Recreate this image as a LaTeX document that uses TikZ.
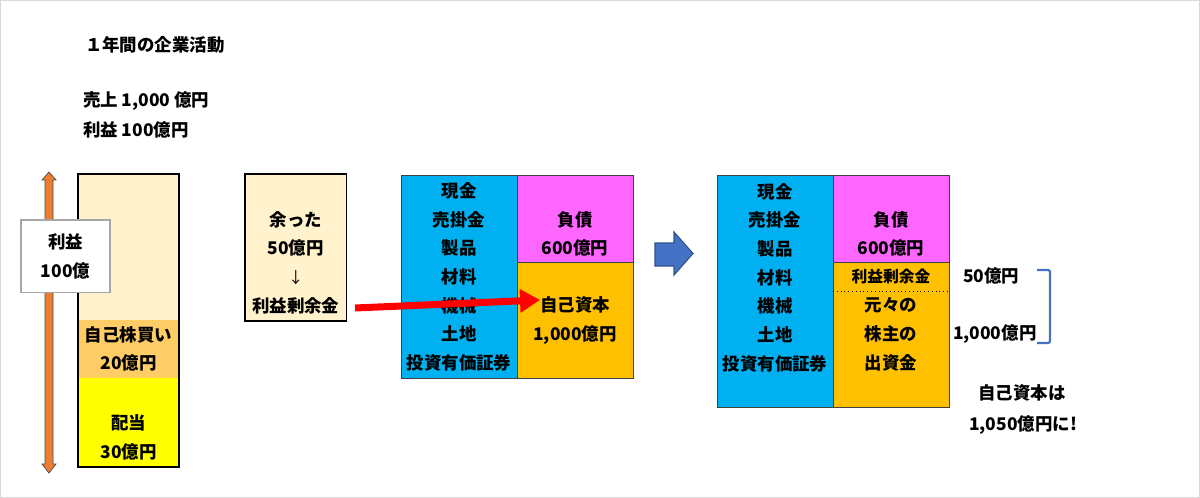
\documentclass[tikz,border=0pt]{standalone}
\usepackage{fontspec}
\setmainfont{Noto Sans CJK JP}
\usepackage{xcolor}
\usetikzlibrary{positioning,arrows.meta}

\definecolor{cream}{HTML}{FFF2CC}
\definecolor{buyback}{HTML}{FFCC66}
\definecolor{divyellow}{HTML}{FFFF00}
\definecolor{asset}{HTML}{00B0F0}
\definecolor{debt}{HTML}{FF66FF}
\definecolor{equity}{HTML}{FFC000}
\definecolor{blockblue}{HTML}{4472C4}
\definecolor{blockedge}{HTML}{2F528F}
\definecolor{profitorange}{HTML}{ED7D31}

\newcommand{\jpfont}{\fontsize{12.4pt}{20.4pt}\selectfont\bfseries}
\newcommand{\jpsmall}{\fontsize{11.2pt}{20.4pt}\selectfont\bfseries}

\begin{document}
\begin{tikzpicture}[
      x=0.025cm,y=-0.025cm,
      every node/.style={font=\jpfont,inner sep=0pt,outer sep=0pt,align=center},
      size/.style 2 args={minimum width=#1*0.025cm,minimum height=#2*0.025cm},
      bs/.style={draw=black!75,line width=0.6pt},
      part/.style={line width=0.6pt},
      redarrow/.style={draw=red,line width=0.175cm,-{Triangle[length=0.5cm,width=0.56cm]}},
      bracket/.style={draw=blockblue,line width=1.6pt,rounded corners=1.5pt},
    ]
    \useasboundingbox (0,0) rectangle (1200,498);
    \draw[gray!30] (0.5,0.5) rectangle (1199.5,497.5);

    \node[anchor=west] (title) at (85,45) {１年間の企業活動};
    \node[anchor=west] (sales) at (83,101) {売上 1,000 億円};
    \node[anchor=west] (income) at (83,130) {利益 100億円};

    \filldraw[fill=profitorange,draw=black!70,line width=0.5pt]
      (49,172) -- (56,180) -- (53,180) -- (53,464) -- (56,464) -- (49,473)
      -- (42,464) -- (45,464) -- (45,180) -- (42,180) -- cycle;

    \node[part,fill=cream,size={101}{146.5}] (rest) at (128.5,247.25) {};
    \node[part,fill=buyback,size={101}{57.5}] (buy) at (128.5,349) {自己株買い\\20億円};
    \node[part,fill=divyellow,size={101}{89}] (div) at (128.5,422.5) {};
    \node (divt) at (128.5,437.5) {配当\\30億円};
    \draw[line width=0.8pt] (rest.north west) rectangle (div.south east);

    \node[draw=black!35,line width=0.8pt,fill=white,size={89}{72.5}] (profit) at (65.5,256.25) {利益\\100億};

    \node[draw=black,line width=0.8pt,fill=cream,size={101.5}{147}] (amari) at (295.75,247.5) {};
    \node (amarit) at (295.75,262.5) {余った\\50億円\\{\mdseries\fontsize{11pt}{20.4pt}\selectfont ↓}\\利益剰余金};

    \node[bs,fill=asset,size={116}{203.5}] (as1) at (459,276.75) {現金\\売掛金\\製品\\材料\\機械\\土地\\投資有価証券};
    \node[bs,fill=debt,size={116}{87.5}] (db1) at (575,218.75) {};
    \node (db1t) at (575,234) {負債\\600億円};
    \node[bs,fill=equity,size={116}{116}] (eq1) at (575,320.5) {自己資本\\1,000億円};

    \filldraw[fill=blockblue,draw=blockedge,line width=0.8pt]
      (655,243) -- (674,243) -- (674,232) -- (693,253.5) -- (674,275) -- (674,266) -- (655,266) -- cycle;

    \node[bs,fill=asset,size={116}{232}] (as2) at (775,291) {};
    \node (as2t) at (775,277.5) {現金\\売掛金\\製品\\材料\\機械\\土地\\投資有価証券};
    \node[bs,fill=debt,size={116}{87.5}] (db2) at (891,218.75) {};
    \node (db2t) at (891,234) {負債\\600億円};
    \node[bs,fill=equity,size={116}{144.5}] (eq2) at (891,334.75) {};
    \draw[dotted,line width=0.7pt] (833,291) -- (949,291);
    \node[font=\jpsmall] (re2) at (891,276.5) {利益剰余金};
    \node (cap2) at (891,334.5) {元々の\\株主の\\出資金};

    \node[anchor=west] (re50) at (963,276) {50億円};
    \node[anchor=west] (cap1000) at (953,334) {1,000億円};
    \draw[bracket] (1037,270) -- (1050,270) -- (1050,343) -- (1037,343);

    \node (tot1) at (1022,393) {自己資本は};
    \node (tot2) at (1023,425) {1,050億円に!};

    \draw[redarrow] ([shift={(8.5,60.5)}]amari.east) -- ([shift={(23,-20.5)}]eq1.west);
  \end{tikzpicture}
\end{document}
